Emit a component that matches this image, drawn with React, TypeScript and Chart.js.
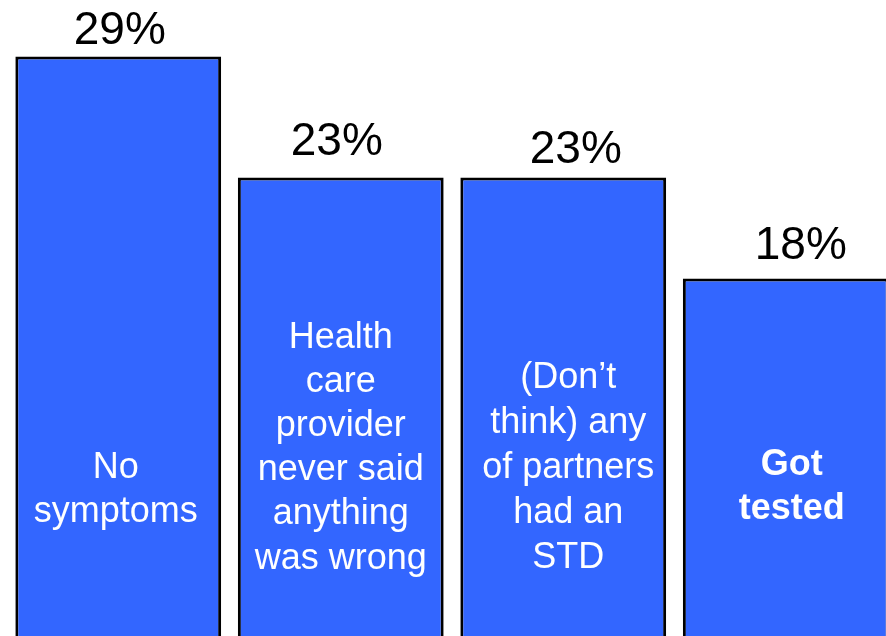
import React, { useEffect, useRef } from "react";
import { Chart, registerables } from "chart.js";

Chart.register(...registerables);

// ---- data ----
const categories = ["No symptoms", "Health care provider", "Partners had STD", "Got tested"];
const values = [29, 23, 23, 18];
const valueLabels = ["29%", "23%", "23%", "18%"];
const innerLabels: string[][] = [
  ["No", "symptoms"],
  ["Health", "care", "provider", "never said", "anything", "was wrong"],
  ["(Don\u2019t", "think) any", "of partners", "had an", "STD"],
  ["Got", "tested"],
];
const innerBold = [false, false, false, true];

// ---- layout / style constants ----
const FONT = "'Liberation Sans', Arial, sans-serif";
const valueLabelDx = [1.5, -4, 12.5, 15];
const valueLabelGap = [12.4, 23, 14.6, 20];
const innerDx = [-2.5, 0, 5, 6];
const innerFirstBaseline = [477.7, 347.5, 387.5, 475];
const innerLineHeight = [44, 44.2, 45, 44];

const labelPlugin = {
  id: "barLabels",
  afterDatasetsDraw(chart: any) {
    const ctx = chart.ctx;
    const meta = chart.getDatasetMeta(0);
    ctx.save();
    ctx.textAlign = "center";
    ctx.textBaseline = "alphabetic";
    meta.data.forEach((bar: any, i: number) => {
      ctx.fillStyle = "#000000";
      ctx.font = `46px ${FONT}`;
      ctx.fillText(valueLabels[i], bar.x + valueLabelDx[i], bar.y - valueLabelGap[i]);
      ctx.fillStyle = "#ffffff";
      ctx.font = `${innerBold[i] ? "bold " : ""}36px ${FONT}`;
      innerLabels[i].forEach((line, j) => {
        ctx.fillText(line, bar.x + innerDx[i], innerFirstBaseline[i] + j * innerLineHeight[i]);
      });
    });
    ctx.restore();
  },
};

export default function App() {
  const ref = useRef<HTMLCanvasElement>(null);
  useEffect(() => {
    if (!ref.current) return;
    const chart = new Chart(ref.current, {
      type: "bar",
      data: {
        labels: categories,
        datasets: [
          {
            data: values,
            backgroundColor: "#3366FF",
            borderColor: "#000000",
            borderWidth: 3,
            borderSkipped: false,
            categoryPercentage: 1,
            barPercentage: 0.925,
          },
        ],
      },
      options: {
        responsive: false,
        animation: false,
        devicePixelRatio: 1,
        layout: { padding: { left: 7, right: 3, top: 16, bottom: 18 } },
        plugins: { legend: { display: false }, tooltip: { enabled: false } },
        scales: {
          x: { display: false, offset: true, grid: { display: false } },
          y: { display: false, min: 0, max: 31, grid: { display: false } },
        },
      },
      plugins: [labelPlugin],
    });
    return () => chart.destroy();
  }, []);
  return (
    <div style={{ position: "fixed", left: 0, top: 0, width: 900, height: 660, background: "#fff" }}>
      <canvas ref={ref} width={900} height={660} style={{ display: "block" }} />
    </div>
  );
}
